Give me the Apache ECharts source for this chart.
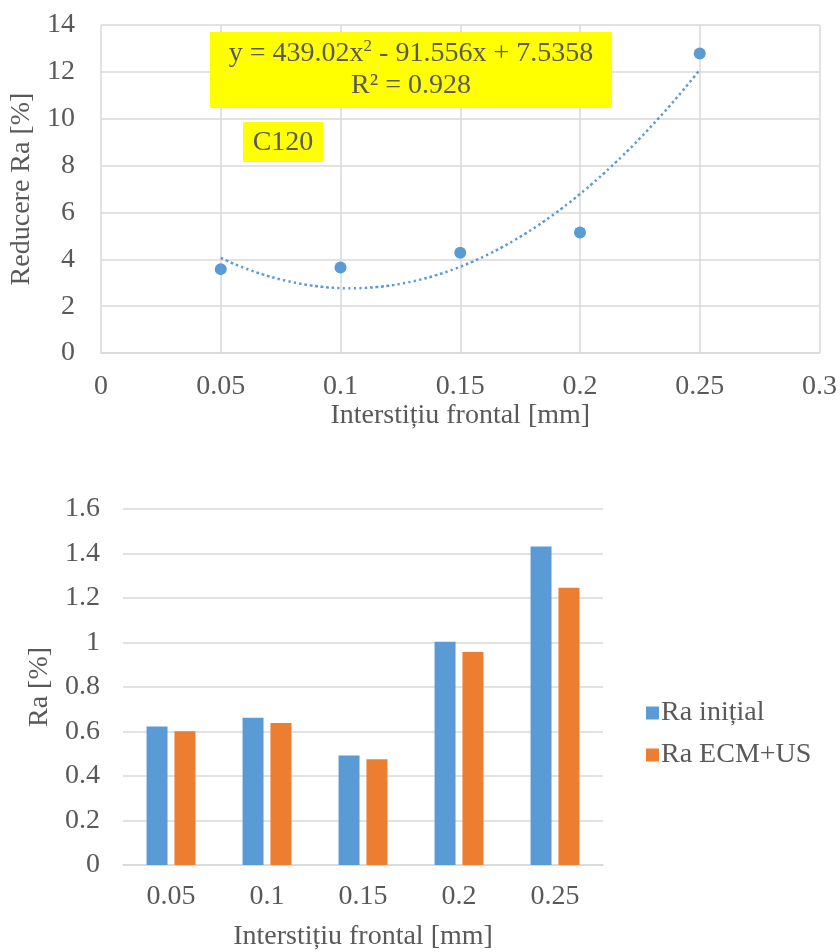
<!DOCTYPE html>
<html>
<head>
<meta charset="utf-8">
<script src="https://cdn.jsdelivr.net/npm/echarts@6/dist/echarts.min.js"></script>
<style>
  html, body { margin: 0; padding: 0; background: #fff; }
  #chart { width: 840px; height: 952px; }
</style>
</head>
<body>
<div id="chart"></div>
<script>
// Upper panel: Ra reduction vs. frontal gap (C120), with a polynomial trendline
const gapValues = [0.05, 0.1, 0.15, 0.2, 0.25];
const raReduction = [3.58, 3.65, 4.28, 5.14, 12.78];
// Trendline coefficients as given by the fitted equation: a*x^2 + b*x + c
const trendCoeffs = [439.02, -91.556, 7.5358];
const trendR2 = 0.928;

// Lower panel: Ra before and after ECM+US
const barCategories = ['0.05', '0.1', '0.15', '0.2', '0.25'];
const raInitial = [0.623, 0.662, 0.492, 1.003, 1.432];
const raEcmUs = [0.601, 0.638, 0.475, 0.957, 1.246];

const FONT = '"Liberation Serif", "Times New Roman", serif';
const TEXT = '#595959';
const GRID = '#d9d9d9';
const BLUE = '#5b9bd5';
const ORANGE = '#ed7d31';
const FS = 28;

function trendAt(x) {
  return trendCoeffs[0] * x * x + trendCoeffs[1] * x + trendCoeffs[2];
}
const trendPoints = [];
for (let i = 0; i <= 80; i++) {
  const x = gapValues[0] + (gapValues[gapValues.length - 1] - gapValues[0]) * i / 80;
  trendPoints.push([x, trendAt(x)]);
}

const fmt = v => String(+v.toFixed(2));
const axisText = { fontFamily: FONT, fontSize: FS, color: TEXT };

const chart = echarts.init(document.getElementById('chart'));
chart.setOption({
  animation: false,
  backgroundColor: '#fff',
  textStyle: { fontFamily: FONT },
  grid: [
    { left: 101, top: 25, width: 721, height: 328 },
    { left: 123, top: 509, width: 480, height: 359 }
  ],
  xAxis: [
    {
      gridIndex: 0, type: 'value', min: 0, max: 0.3, interval: 0.05,
      name: 'Interstițiu frontal [mm]', nameLocation: 'middle', nameGap: 37,
      nameTextStyle: axisText,
      axisLine: { lineStyle: { color: GRID, width: 1.5 } },
      axisTick: { show: false },
      axisLabel: Object.assign({ margin: 20, formatter: fmt }, axisText),
      splitLine: { show: true, lineStyle: { color: GRID, width: 1.5 } }
    },
    {
      gridIndex: 1, type: 'category', data: barCategories,
      name: 'Interstițiu frontal [mm]', nameLocation: 'middle', nameGap: 58,
      nameTextStyle: axisText,
      axisLine: { lineStyle: { color: GRID, width: 1.5 } },
      axisTick: { show: false },
      axisLabel: Object.assign({ margin: 18 }, axisText)
    }
  ],
  yAxis: [
    {
      gridIndex: 0, type: 'value', min: 0, max: 14, interval: 2,
      name: 'Reducere Ra [%]', nameLocation: 'middle', nameGap: 64, nameRotate: 90,
      nameTextStyle: axisText,
      axisLine: { show: false },
      axisTick: { show: false },
      axisLabel: Object.assign({ margin: 26, formatter: fmt }, axisText),
      splitLine: { lineStyle: { color: GRID, width: 1.5 } }
    },
    {
      gridIndex: 1, type: 'value', min: 0, max: 1.6, interval: 0.2,
      name: 'Ra [%]', nameLocation: 'middle', nameGap: 64, nameRotate: 90,
      nameTextStyle: axisText,
      axisLine: { show: false },
      axisTick: { show: false },
      axisLabel: Object.assign({ margin: 23, formatter: fmt }, axisText),
      splitLine: { lineStyle: { color: GRID, width: 1.5 } }
    }
  ],
  legend: {
    orient: 'vertical', left: 641, top: 694,
    itemWidth: 13, itemHeight: 13, itemGap: 14, icon: 'rect',
    data: ['Ra inițial', 'Ra ECM+US'],
    textStyle: { fontFamily: FONT, fontSize: FS, color: TEXT, padding: [0, 0, 0, -3] }
  },
  series: [
    {
      name: 'trend', type: 'line', xAxisIndex: 0, yAxisIndex: 0,
      data: trendPoints, showSymbol: false, smooth: true,
      lineStyle: { color: BLUE, width: 2.5, type: [2.5, 3] }, z: 2
    },
    {
      name: 'Reducere Ra', type: 'scatter', xAxisIndex: 0, yAxisIndex: 0,
      data: gapValues.map((x, i) => [x, raReduction[i]]),
      symbolSize: 12, itemStyle: { color: BLUE, opacity: 1 }, z: 3
    },
    {
      name: 'Ra inițial', type: 'bar', xAxisIndex: 1, yAxisIndex: 1,
      data: raInitial, barWidth: 21, barGap: '33%',
      itemStyle: { color: BLUE }
    },
    {
      name: 'Ra ECM+US', type: 'bar', xAxisIndex: 1, yAxisIndex: 1,
      data: raEcmUs, barWidth: 21, barGap: '33%',
      itemStyle: { color: ORANGE }
    }
  ],
  graphic: [
    {
      type: 'rect', left: 210, top: 32, shape: { width: 402, height: 76 },
      style: { fill: '#ffff00' }, z: 10
    },
    {
      type: 'text', x: 411, y: 38, z: 11,
      style: {
        text: '{t|y = ' + trendCoeffs[0].toFixed(2) + 'x}{sup|2}{t| - ' + Math.abs(trendCoeffs[1]).toFixed(3) +
              'x + ' + trendCoeffs[2].toFixed(4) + '}\n{t|R² = ' + trendR2 + '}',
        align: 'center', verticalAlign: 'top',
        font: FS + 'px ' + FONT, fill: TEXT,
        rich: {
          t: { fontFamily: FONT, fontSize: FS, fill: TEXT, lineHeight: 32 },
          sup: { fontFamily: FONT, fontSize: 17, fill: TEXT, lineHeight: 32, verticalAlign: 'top', padding: [0, 0, 10, 0] }
        }
      }
    },
    {
      type: 'rect', left: 243, top: 122, shape: { width: 80, height: 40 },
      style: { fill: '#ffff00' }, z: 10
    },
    {
      type: 'text', x: 283, y: 143, z: 11,
      style: { text: 'C120', align: 'center', verticalAlign: 'middle', font: FS + 'px ' + FONT, fill: TEXT }
    }
  ]
});
</script>
</body>
</html>
